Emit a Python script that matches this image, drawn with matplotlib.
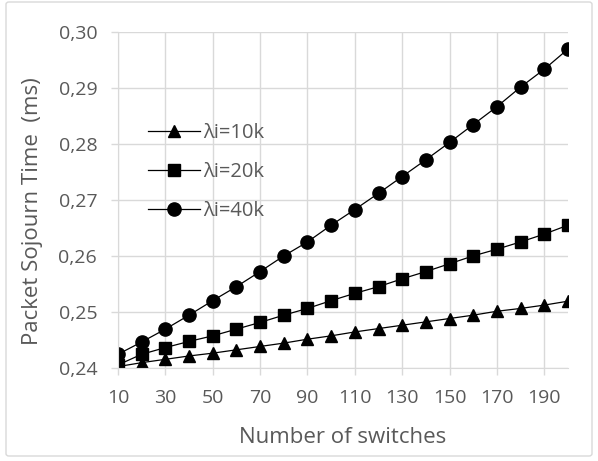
import matplotlib as mpl
mpl.use('Agg')
import matplotlib.pyplot as plt
from matplotlib.ticker import FuncFormatter, MultipleLocator
from matplotlib.patches import FancyBboxPatch

switches = list(range(10, 201, 10))
t10k = [0.2402, 0.2409, 0.2415, 0.2421, 0.2426, 0.2432, 0.2438, 0.2444, 0.2451, 0.2457,
        0.2464, 0.2470, 0.2476, 0.2482, 0.2488, 0.2494, 0.2501, 0.2506, 0.2512, 0.2519]
t20k = [0.2405, 0.2424, 0.2436, 0.2447, 0.2457, 0.2469, 0.2481, 0.2494, 0.2506, 0.2520,
        0.2533, 0.2545, 0.2559, 0.2572, 0.2586, 0.2600, 0.2612, 0.2625, 0.2639, 0.2655]
t40k = [0.2424, 0.2446, 0.2469, 0.2494, 0.2520, 0.2545, 0.2572, 0.2600, 0.2625, 0.2655,
        0.2683, 0.2712, 0.2742, 0.2772, 0.2803, 0.2835, 0.2867, 0.2902, 0.2934, 0.2970]
labels = ['λi=10k', 'λi=20k', 'λi=40k']

plt.rcParams['font.family'] = ['Open Sans', 'DejaVu Sans']
grid = '#d9d9d9'
txt = '#595959'

fig = plt.figure(figsize=(5.98, 4.61), dpi=100)
fig.patches.append(FancyBboxPatch((6/598, 5/461), 586/598, 454/461,
                                  boxstyle='round,pad=0,rounding_size=0.005',
                                  transform=fig.transFigure, fill=False,
                                  edgecolor=grid, linewidth=1))
ax = fig.add_axes([118/598, 1-367.7/461, 450/598, (367.7-32.3)/461])

ax.plot(switches, t10k, color='black', lw=0.9, marker='^', ms=8.5, label=labels[0])
ax.plot(switches, t20k, color='black', lw=0.9, marker='s', ms=8, label=labels[1])
ax.plot(switches, t40k, color='black', lw=0.9, marker='o', ms=9.5, label=labels[2])

ax.set_xlim(10, 200)
ax.set_ylim(0.24, 0.30)
ax.set_xticks(range(10, 200, 20))
ax.yaxis.set_major_locator(MultipleLocator(0.01))
ax.yaxis.set_major_formatter(FuncFormatter(lambda v, p: ('%.2f' % v).replace('.', ',')))
ax.grid(True, color=grid, lw=1)
ax.set_axisbelow(True)
for s in ['top', 'right']:
    ax.spines[s].set_visible(False)
for s in ['left', 'bottom']:
    ax.spines[s].set_color(grid)
ax.tick_params(colors=grid, labelcolor=txt, labelsize=14, length=5, width=1)
ax.tick_params(axis='x', pad=10.5)
ax.tick_params(axis='y', pad=10)
ax.set_xlabel('Number of switches', color=txt, fontsize=16, labelpad=14)
ax.set_ylabel('Packet Sojourn Time  (ms)', color=txt, fontsize=16)
ax.yaxis.set_label_coords(-75/450, 0.467)

leg = ax.legend(loc='upper left', bbox_to_anchor=(30/450, 0.73), frameon=False,
                borderpad=0, borderaxespad=0,
                handlelength=2.6, fontsize=14.5, labelspacing=0.95, handletextpad=0.15)
for t in leg.get_texts():
    t.set_color(txt)

plt.savefig('out.png', dpi=100)
